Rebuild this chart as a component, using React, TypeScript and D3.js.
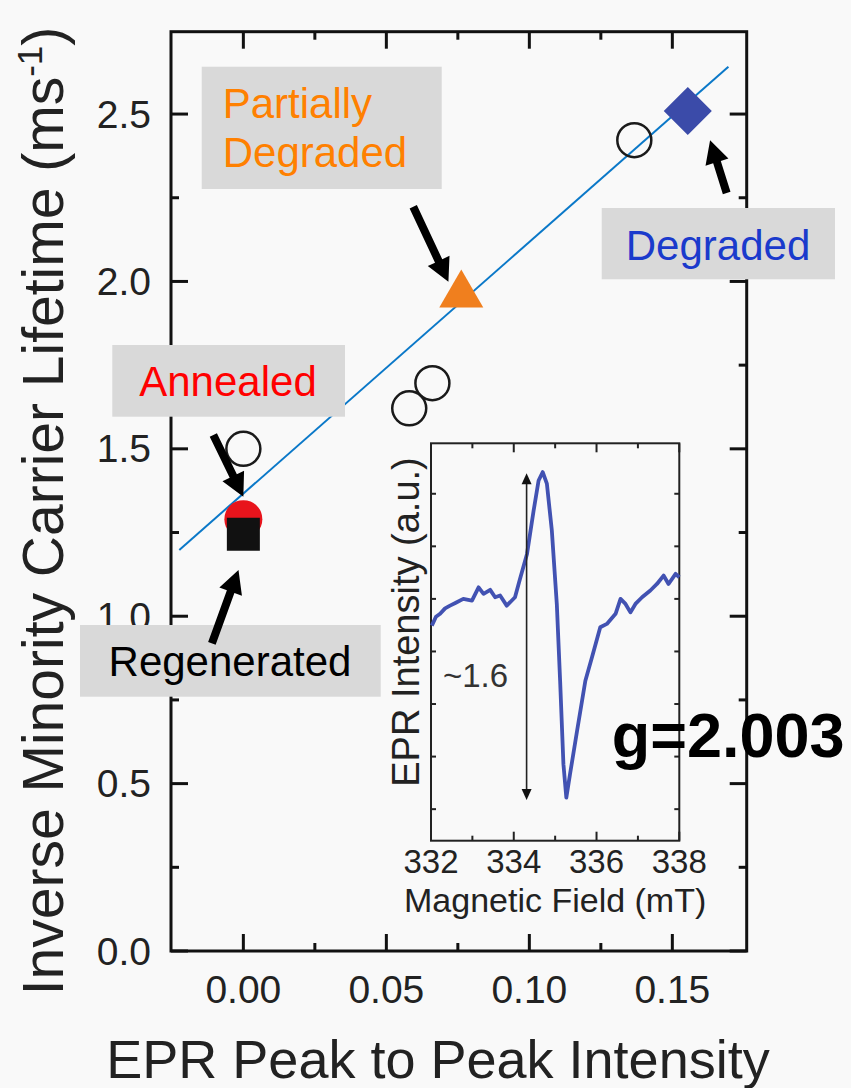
import React from "react";
import * as d3 from "d3";

// main plot: x = EPR peak-to-peak intensity, y = inverse lifetime (ms^-1)
const openX = [0.0, 0.058, 0.0661, 0.1367];
const openY = [1.5, 1.621, 1.696, 2.422];
const annealedX = [0.0];
const annealedY = [1.29];
const regeneratedX = [0.0];
const regeneratedY = [1.245];
const partialX = [0.0762];
const partialY = [1.96];
const degradedX = [0.1554];
const degradedY = [2.509];
const fitX = [-0.0224, 0.1696];
const fitY = [1.198, 2.641];

const xTicks = [0, 0.05, 0.1, 0.15];
const xTickLabels = ["0.00", "0.05", "0.10", "0.15"];
const xMinor = [0.025, 0.075, 0.125];
const yTicks = [0, 0.5, 1.0, 1.5, 2.0, 2.5];
const yTickLabels = ["0.0", "0.5", "1.0", "1.5", "2.0", "2.5"];
const yMinor = [0.25, 0.75, 1.25, 1.75, 2.25];

// inset: EPR spectrum
const eprField = [
  332.02, 332.12, 332.22, 332.34, 332.46, 332.6, 332.78, 332.99, 333.15, 333.27, 333.43, 333.55, 333.67,
  333.83, 334.03, 334.15, 334.32, 334.48, 334.6, 334.7, 334.8, 334.92, 335.04,
  335.12, 335.2, 335.27, 335.36, 335.53, 335.73, 335.89, 336.09, 336.25, 336.46,
  336.58, 336.7, 336.82, 336.94, 337.1, 337.3, 337.46, 337.62, 337.74, 337.91, 338.0,
];
const eprSignal = [
  0.123, 0.165, 0.179, 0.205, 0.218, 0.232, 0.25, 0.242, 0.305, 0.274, 0.293, 0.258, 0.266,
  0.218, 0.258, 0.345, 0.464, 0.67, 0.813, 0.853, 0.798, 0.575, 0.226,
  -0.139, -0.536, -0.695, -0.583, -0.377, -0.139, -0.028, 0.115, 0.131, 0.179,
  0.25, 0.226, 0.186, 0.226, 0.258, 0.29, 0.321, 0.361, 0.321, 0.369, 0.353,
];
const insetXTicks = [332, 334, 336, 338];
const insetXTickLabels = ["332", "334", "336", "338"];
const insetXMinor = [333, 335, 337];
const insetYTicks = [-0.75, -0.5, -0.25, 0, 0.25, 0.5, 0.75];
const peakArrowField = [334.31, 334.31];
const peakArrowSignal = [0.847, -0.707];

const FONT = "'Liberation Sans', Arial, sans-serif";

function arrowPoints(x1: number, y1: number, x2: number, y2: number, sw = 8, hw = 24, hl = 23) {
  const dx = x2 - x1, dy = y2 - y1;
  const L = Math.hypot(dx, dy);
  const ux = dx / L, uy = dy / L;
  const nx = -uy, ny = ux;
  const bx = x2 - ux * hl, by = y2 - uy * hl;
  const p = [
    [x1 + nx * sw / 2, y1 + ny * sw / 2],
    [bx + nx * sw / 2, by + ny * sw / 2],
    [bx + nx * hw / 2, by + ny * hw / 2],
    [x2, y2],
    [bx - nx * hw / 2, by - ny * hw / 2],
    [bx - nx * sw / 2, by - ny * sw / 2],
    [x1 - nx * sw / 2, y1 - ny * sw / 2],
  ];
  return p.map((d) => d.join(",")).join(" ");
}

const App = () => {
  const W = 851, H = 1088;
  const x = d3.scaleLinear().domain([-0.0253, 0.176]).range([171, 746.7]);
  const y = d3.scaleLinear().domain([0, 2.746]).range([951, 31.7]);
  const ix = d3.scaleLinear().domain([332, 338]).range([431, 679.3]);
  const iy = d3.scaleLinear().domain([-0.9, 0.99]).range([840.7, 443.3]);

  const [x0, x1] = x.range();
  const [y0, y1] = y.range();
  const [ix0, ix1] = ix.range();
  const [iy0, iy1] = iy.range();

  const curve = d3
    .line<number>()
    .x((_, i) => ix(eprField[i]))
    .y((d) => iy(d))
    .curve(d3.curveLinear);

  const tri = d3.symbol().type(d3.symbolTriangle).size(838)();
  const sq = d3.symbol().type(d3.symbolSquare).size(1089)();
  const dia = d3.symbol().type(d3.symbolSquare).size(1156)();

  // arrows pointing at markers, in data units [tailX, tailY, headX, headY]
  const arrows = [
    [0.0594, 2.223, 0.0717, 1.999],
    [0.169, 2.264, 0.1632, 2.422],
    [-0.0105, 1.541, 0.0, 1.357],
    [-0.011, 0.919, -0.0017, 1.138],
  ];

  const ah = peakArrowSignal.map((v) => iy(v));
  const ax = ix(peakArrowField[0]);

  return (
    <svg width={W} height={H} style={{ position: "absolute", left: 0, top: 0 }} fontFamily={FONT}>
      <rect x={0} y={0} width={W} height={H} fill="#f9f9f9" />

      {/* fit line */}
      <line x1={x(fitX[0])} y1={y(fitY[0])} x2={x(fitX[1])} y2={y(fitY[1])} stroke="#0a78c8" strokeWidth={2} />

      {/* markers */}
      {openX.map((v, i) => (
        <circle key={i} cx={x(v)} cy={y(openY[i])} r={17} fill="none" stroke="#1a1a1a" strokeWidth={2.5} />
      ))}
      {annealedX.map((v, i) => (
        <circle key={i} cx={x(v)} cy={y(annealedY[i])} r={19} fill="#e8141c" />
      ))}
      {regeneratedX.map((v, i) => (
        <path key={i} d={sq!} transform={`translate(${x(v)},${y(regeneratedY[i])})`} fill="#111" />
      ))}
      {partialX.map((v, i) => (
        <path key={i} d={tri!} transform={`translate(${x(v)},${y(partialY[i])})`} fill="#f07f1e" />
      ))}
      {degradedX.map((v, i) => (
        <path key={i} d={dia!} transform={`translate(${x(v)},${y(degradedY[i])}) rotate(45)`} fill="#3b4ba9" />
      ))}

      {/* inset */}
      <rect x={ix0} y={iy1} width={ix1 - ix0} height={iy0 - iy1} fill="none" stroke="#222" strokeWidth={2} />
      {insetXTicks.map((t) => (
        <g key={t}>
          <line x1={ix(t)} x2={ix(t)} y1={iy0} y2={iy0 - 9} stroke="#222" strokeWidth={2} />
          <line x1={ix(t)} x2={ix(t)} y1={iy1} y2={iy1 + 9} stroke="#222" strokeWidth={2} />
        </g>
      ))}
      {insetXMinor.map((t) => (
        <g key={t}>
          <line x1={ix(t)} x2={ix(t)} y1={iy0} y2={iy0 - 5} stroke="#222" strokeWidth={2} />
          <line x1={ix(t)} x2={ix(t)} y1={iy1} y2={iy1 + 5} stroke="#222" strokeWidth={2} />
        </g>
      ))}
      {insetYTicks.map((t) => (
        <g key={t}>
          <line x1={ix0} x2={ix0 + 5} y1={iy(t)} y2={iy(t)} stroke="#222" strokeWidth={2} />
          <line x1={ix1} x2={ix1 - 5} y1={iy(t)} y2={iy(t)} stroke="#222" strokeWidth={2} />
        </g>
      ))}
      {insetXTicks.map((t, i) => (
        <text key={t} x={ix(t)} y={873} textAnchor="middle" fontSize={33} fill="#222">
          {insetXTickLabels[i]}
        </text>
      ))}
      <text x={(ix0 + ix1) / 2} y={912} textAnchor="middle" fontSize={34} fill="#222">
        Magnetic Field (mT)
      </text>
      <text transform={`translate(419,622) rotate(-90)`} textAnchor="middle" fontSize={38} fill="#222">
        EPR Intensity (a.u.)
      </text>
      <path d={curve(eprSignal)!} fill="none" stroke="#4252b2" strokeWidth={3.8} strokeLinejoin="round" />
      <line x1={ax} x2={ax} y1={ah[0] + 8} y2={ah[1] - 8} stroke="#222" strokeWidth={1.6} />
      <polygon points={`${ax},${ah[0]} ${ax - 5},${ah[0] + 11} ${ax + 5},${ah[0] + 11}`} fill="#111" />
      <polygon points={`${ax},${ah[1]} ${ax - 5},${ah[1] - 11} ${ax + 5},${ah[1] - 11}`} fill="#111" />
      <text x={443} y={686.7} fontSize={33} fill="#333">~1.6</text>

      {/* main frame + ticks */}
      <rect x={x0} y={y1} width={x1 - x0} height={y0 - y1} fill="none" stroke="#111" strokeWidth={3} />
      {xTicks.map((t) => (
        <g key={t}>
          <line x1={x(t)} x2={x(t)} y1={y0} y2={y0 - 17} stroke="#111" strokeWidth={3} />
          <line x1={x(t)} x2={x(t)} y1={y1} y2={y1 + 17} stroke="#111" strokeWidth={3} />
        </g>
      ))}
      {xMinor.map((t) => (
        <g key={t}>
          <line x1={x(t)} x2={x(t)} y1={y0} y2={y0 - 8} stroke="#111" strokeWidth={3} />
          <line x1={x(t)} x2={x(t)} y1={y1} y2={y1 + 8} stroke="#111" strokeWidth={3} />
        </g>
      ))}
      {yTicks.map((t) => (
        <g key={t}>
          <line x1={x0} x2={x0 + 17} y1={y(t)} y2={y(t)} stroke="#111" strokeWidth={3} />
          <line x1={x1} x2={x1 - 17} y1={y(t)} y2={y(t)} stroke="#111" strokeWidth={3} />
        </g>
      ))}
      {yMinor.map((t) => (
        <g key={t}>
          <line x1={x0} x2={x0 + 8} y1={y(t)} y2={y(t)} stroke="#111" strokeWidth={3} />
          <line x1={x1} x2={x1 - 8} y1={y(t)} y2={y(t)} stroke="#111" strokeWidth={3} />
        </g>
      ))}
      {xTicks.map((t, i) => (
        <text key={t} x={x(t)} y={1003} textAnchor="middle" fontSize={39} fill="#222">
          {xTickLabels[i]}
        </text>
      ))}
      {yTicks.map((t, i) => (
        <text key={t} x={151} y={y(t)} dy="0.35em" textAnchor="end" fontSize={39} fill="#222">
          {yTickLabels[i]}
        </text>
      ))}
      <text x={438} y={1078} textAnchor="middle" fontSize={54} fill="#222">
        EPR Peak to Peak Intensity
      </text>
      <text transform={`translate(63,511) rotate(-90)`} textAnchor="middle" fontSize={57} fill="#222">
        Inverse Minority Carrier Lifetime (ms
        <tspan dy={-21} fontSize={35}>-1</tspan>
        <tspan dy={21}>)</tspan>
      </text>

      {/* annotation boxes */}
      <rect x={201.7} y={66.7} width={240} height={122.3} fill="#d9d9d9" />
      <text x={222.7} y={118.3} fontSize={42} fill="#ff8000">Partially</text>
      <text x={222.7} y={166.7} fontSize={42} fill="#ff8000">Degraded</text>

      <rect x={601.7} y={208} width={233.3} height={71.3} fill="#d9d9d9" />
      <text x={718} y={260} textAnchor="middle" fontSize={42} fill="#1a3acc">Degraded</text>

      <rect x={112.3} y={345} width={232.7} height={71.7} fill="#d9d9d9" />
      <text x={228} y={396} textAnchor="middle" fontSize={42} fill="#ff0000">Annealed</text>

      <rect x={80} y={625} width={300.7} height={71.7} fill="#d9d9d9" />
      <text x={230} y={676} textAnchor="middle" fontSize={42} fill="#000">Regenerated</text>

      {arrows.map((a, i) => (
        <polygon key={i} points={arrowPoints(x(a[0]), y(a[1]), x(a[2]), y(a[3]))} fill="#000" />
      ))}

      <text x={611.7} y={756.7} fontSize={63} fontWeight="bold" fill="#000">g=2.003</text>
    </svg>
  );
};

export default App;
